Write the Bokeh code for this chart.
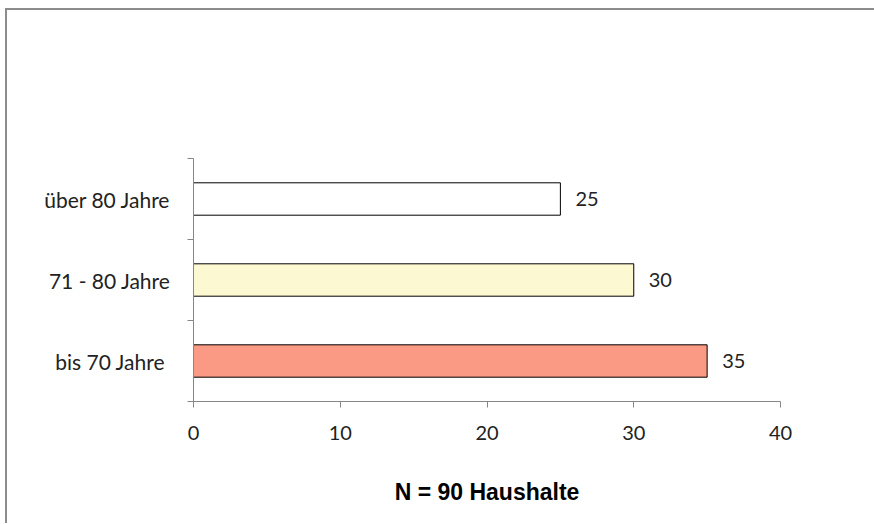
from bokeh.plotting import figure
from bokeh.models import ColumnDataSource, FixedTicker, Range1d
from bokeh.core.properties import value
from bokeh.embed import file_html
from bokeh.resources import INLINE

categories = ["bis  70 Jahre", "71 - 80 Jahre", "über 80 Jahre"]
positions = [0.5, 1.5, 2.5]
counts = [35, 30, 25]
colors = ["#FA9A85", "#FCF9D2", "#FFFFFF"]
x_ticks = [0, 10, 20, 30, 40]
axis_title = "N = 90 Haushalte"

src = ColumnDataSource(dict(y=positions, x=counts, color=colors,
                            label=[str(c) for c in counts]))

p = figure(width=866, height=513, output_backend="svg", toolbar_location=None,
           x_range=Range1d(0, 40), y_range=Range1d(0, 3),
           min_border_left=186, min_border_right=93, min_border_top=148,
           min_border_bottom=122)
p.background_fill_color = "white"
p.border_fill_color = "white"
p.outline_line_color = None
p.grid.visible = False

p.hbar(y="y", right="x", left=0, height=0.4, fill_color="color",
       line_color="black", line_width=1, source=src)
p.text(x="x", y="y", text="label", x_offset=15, text_baseline="middle",
       text_font=value("Lato"), text_font_size="20px", text_color="#222222",
       source=src)

xa = p.xaxis[0]
xa.ticker = FixedTicker(ticks=x_ticks)
xa.axis_line_color = "#868686"
xa.major_tick_line_color = "#868686"
xa.major_tick_out = 6
xa.major_tick_in = 0
xa.minor_tick_line_color = None
xa.major_label_text_font = "Lato"
xa.major_label_text_font_size = "20px"
xa.major_label_text_color = "#222222"
xa.major_label_standoff = 18
xa.axis_label = axis_title
xa.axis_label_text_font = "Liberation Sans"
xa.axis_label_text_font_style = "bold"
xa.axis_label_text_font_size = "23px"
xa.axis_label_text_color = "#000000"
xa.axis_label_standoff = 36

ya = p.yaxis[0]
ya.ticker = FixedTicker(ticks=positions, minor_ticks=[0, 1, 2, 3])
ya.major_label_overrides = {pos: cat for pos, cat in zip(positions, categories)}
ya.axis_line_color = "#868686"
ya.major_tick_line_color = None
ya.major_tick_out = 0
ya.major_tick_in = 0
ya.minor_tick_line_color = "#868686"
ya.minor_tick_out = 6
ya.minor_tick_in = 0
ya.major_label_text_font = "Lato"
ya.major_label_text_font_size = "21px"
ya.major_label_text_color = "#222222"
ya.major_label_standoff = 17

html = file_html(p, INLINE)
page_css = ("<style>html{overflow:hidden;} body{margin:8px 0 0 5px !important;"
            " height:auto !important; border-top:2px solid #8C8C8C;"
            " border-left:2px solid #8C8C8C;}</style>")
html = html.replace("</head>", page_css + "</head>", 1)
open("out.html", "w").write(html)
